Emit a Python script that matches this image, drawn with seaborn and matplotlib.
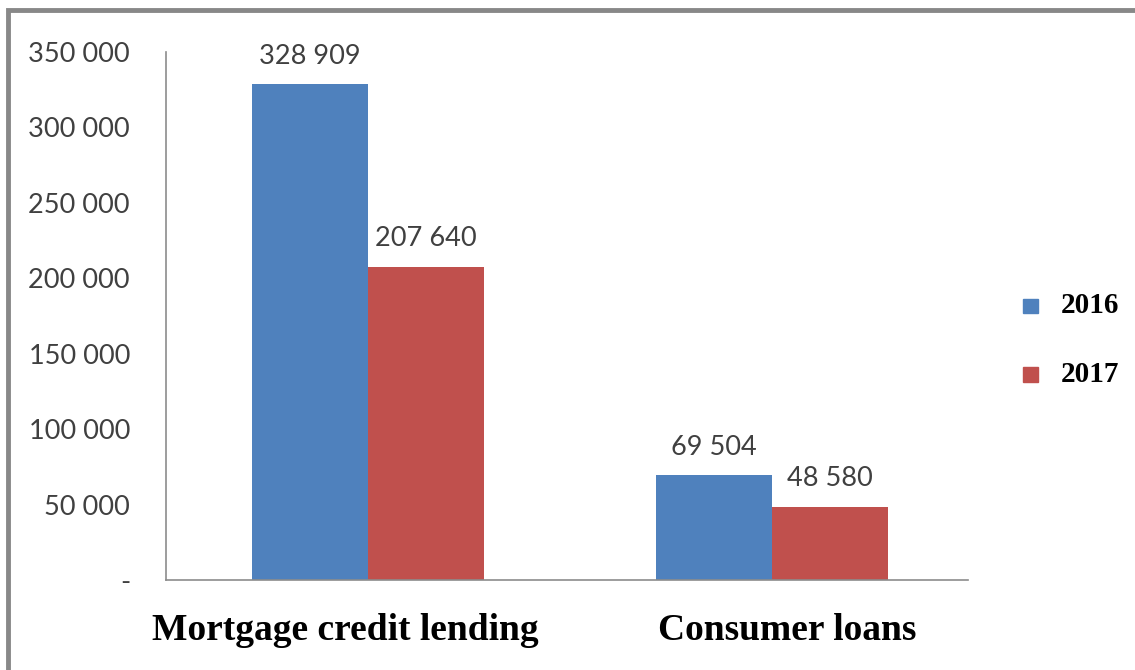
import matplotlib
matplotlib.use("Agg")
import matplotlib.pyplot as plt
from matplotlib.patches import Rectangle
from matplotlib.ticker import FixedLocator, FuncFormatter
import pandas as pd
import seaborn as sns

categories = ["Mortgage credit lending", "Consumer loans"]
years = ["2016", "2017"]
values_2016 = [328909, 69504]
values_2017 = [207640, 48580]
y_ticks = [0, 50000, 100000, 150000, 200000, 250000, 300000, 350000]

df = pd.DataFrame({
    "category": categories * 2,
    "year": [years[0]] * 2 + [years[1]] * 2,
    "value": values_2016 + values_2017,
})

sns.set_style("white")
palette = {"2016": "#4F81BD", "2017": "#C0504D"}
num_font = "Lato"

fig = plt.figure(figsize=(11.35, 6.7), dpi=100)
ax = fig.add_axes([166 / 1135, 1 - 580 / 670, (968 - 166) / 1135, (580 - 52) / 670])

sns.barplot(data=df, x="category", y="value", hue="year", palette=palette,
            width=0.575, saturation=1, linewidth=0, ax=ax, legend=False)

ax.set_xlim(-0.5, 1.485)
ax.set_ylim(0, 350000)

def fmt(v, _):
    if v == 0:
        return "-"
    return f"{int(v):,}".replace(",", " ")

ax.yaxis.set_major_locator(FixedLocator(y_ticks))
ax.yaxis.set_major_formatter(FuncFormatter(fmt))
ax.tick_params(axis="y", length=0, pad=26, labelsize=19.5, labelcolor="#404040")
for lab in ax.get_yticklabels():
    lab.set_family(num_font)

ax.set_xticks([])
ax.set_xlabel("")
ax.set_ylabel("")

for side in ["top", "right"]:
    ax.spines[side].set_visible(False)
for side in ["left", "bottom"]:
    ax.spines[side].set_color("#8c8c8c")
    ax.spines[side].set_linewidth(1.2)

# Value labels above each bar
for container in ax.containers:
    ax.bar_label(container, labels=[fmt(b.get_height(), None) for b in container],
                 padding=11, fontsize=19.5, color="#404040", family=num_font)

# Category labels below the axis
cat_offsets = [-0.055, 0.037]
for i, (cat, off) in enumerate(zip(categories, cat_offsets)):
    ax.text(i + off, -0.096, cat, transform=ax.get_xaxis_transform(),
            ha="center", va="center", fontsize=27, fontweight="bold",
            family="Liberation Serif", color="black")

# Legend on the right
for j, yr in enumerate(years):
    yc = 1 - (306 + 68 * j) / 670
    fig.patches.append(Rectangle((1023 / 1135, yc - 7.5 / 670), 15 / 1135, 15 / 670,
                                 transform=fig.transFigure, color=palette[yr]))
    fig.text(1061 / 1135, yc, yr, ha="left", va="center", fontsize=21,
             fontweight="bold", family="Liberation Serif", color="black")

# Outer frame
fig.patches.append(Rectangle((8 / 1135, -0.1), 1.2, 1 - 10 / 670 + 0.1,
                             transform=fig.transFigure, fill=False,
                             edgecolor="#888888", linewidth=3.5))

fig.savefig("out.png", dpi=100)
